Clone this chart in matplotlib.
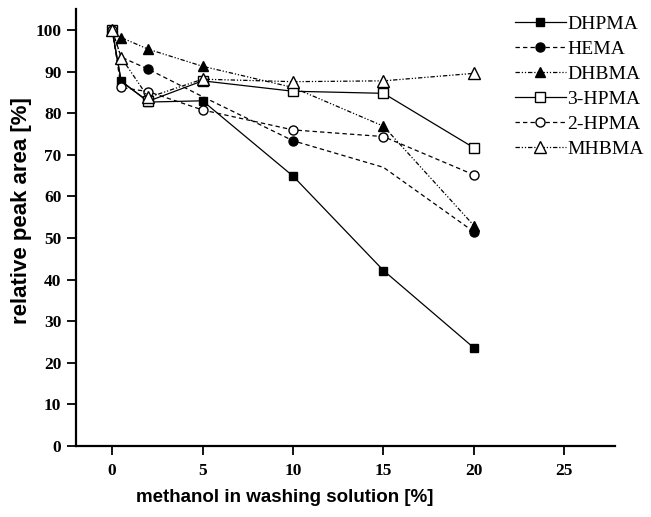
import numpy as np
import matplotlib
matplotlib.use("Agg")
import matplotlib.pyplot as plt

# methanol content in washing solution [%]
x_all = [0, 0.5, 2, 5, 10, 15, 20]

# relative peak area [%] per analyte
dhpma = [100, 87.8, 82.7, 83.0, 64.9, 42.2, 23.6]
hema = [100, 93.5, 90.6, 84.0, 73.4, 67.0, 51.5]
dhbma = [100, 98.2, 95.4, 91.3, 86.2, 76.9, 53.0]
hpma3 = [100, 87.6, 82.9, 87.8, 85.3, 84.8, 71.7]
hpma2 = [100, 86.2, 85.2, 80.8, 76.0, 74.4, 65.2]
mhbma = [100, 93.4, 83.8, 88.2, 87.6, 87.8, 89.6]

labels = ["DHPMA", "HEMA", "DHBMA", "3-HPMA", "2-HPMA", "MHBMA"]
x_ticks = [0, 5, 10, 15, 20, 25]
y_ticks = [0, 10, 20, 30, 40, 50, 60, 70, 80, 90, 100]

fig = plt.figure(figsize=(6.51, 5.17), dpi=100)
ax = fig.add_axes([0.1167, 0.1373, 0.8280, 0.8447])

dashed = (0, (3.5, 2.5))
dashdotdot = (0, (3.5, 1.5, 1, 1.5, 1, 1.5))

series = [
    (dhpma, "-", "s", "black", 6.0, list(range(7))),
    (hema, dashed, "o", "black", 6.5, [0, 2, 4, 6]),
    (dhbma, dashdotdot, "^", "black", 7.5, list(range(7))),
    (hpma3, "-", "s", "white", 6.5, [0, 2, 3, 4, 5, 6]),
    (hpma2, dashed, "o", "white", 6.5, list(range(7))),
    (mhbma, dashdotdot, "^", "white", 8.0, list(range(7))),
]

for (vals, ls, mk, fc, ms, every), lab in zip(series, labels):
    ax.plot(x_all, vals, linestyle=ls, color="black", linewidth=0.9,
            marker=mk, markersize=ms, markerfacecolor=fc,
            markeredgecolor="black", markeredgewidth=1.0,
            markevery=every, label=lab)

ax.set_xlim(-2.0, 27.8)
ax.set_ylim(0, 105)
ax.set_xticks(x_ticks)
ax.set_yticks(y_ticks)
ax.set_xticklabels([str(v) for v in x_ticks], fontfamily="Liberation Serif",
                   fontweight="bold", fontsize=12.5)
ax.set_yticklabels([str(v) for v in y_ticks], fontfamily="Liberation Serif",
                   fontweight="bold", fontsize=12.5)

for side in ["top", "right"]:
    ax.spines[side].set_visible(False)
for side in ["left", "bottom"]:
    ax.spines[side].set_linewidth(1.6)

ax.tick_params(axis="both", direction="out", length=6.5, width=1.3)
ax.tick_params(axis="y", pad=4)
ax.tick_params(axis="x", pad=6)

ax.set_xlabel("methanol in washing solution [%]", fontfamily="Liberation Sans",
              fontweight="bold", fontsize=13.5)
ax.xaxis.set_label_coords(0.388, -0.098)
ax.set_ylabel("relative peak area [%]", fontfamily="Liberation Sans",
              fontweight="bold", fontsize=16)
ax.yaxis.set_label_coords(-0.082, 0.54)

leg = ax.legend(loc="upper left", bbox_to_anchor=(0.80, 1.005),
                frameon=False, handlelength=2.6, handletextpad=0.1,
                labelspacing=0.38, borderaxespad=0,
                prop={"family": "Liberation Serif", "size": 14})

fig.savefig("out.png", dpi=100)
